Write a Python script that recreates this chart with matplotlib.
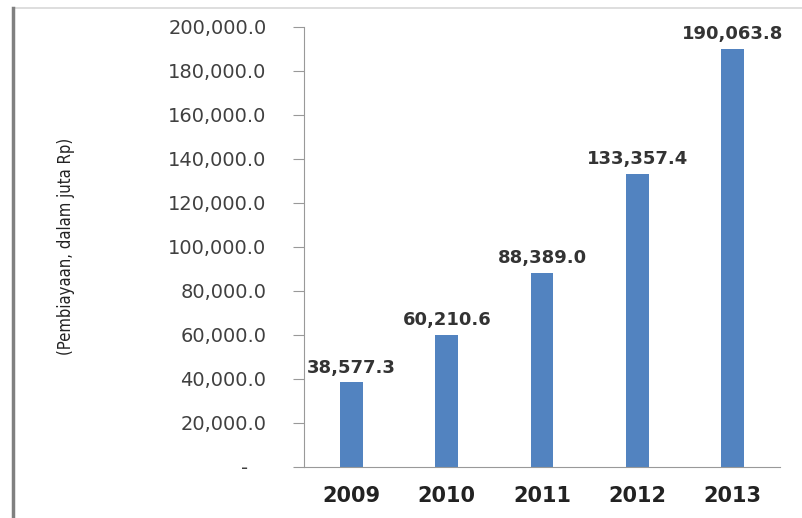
import matplotlib.pyplot as plt
import numpy as np
from matplotlib.lines import Line2D
from matplotlib.ticker import FuncFormatter

years = ['2009', '2010', '2011', '2012', '2013']
pembiayaan = [38577.3, 60210.6, 88389.0, 133357.4, 190063.8]
yticks = [0, 20000, 40000, 60000, 80000, 100000, 120000, 140000, 160000, 180000, 200000]

fig = plt.figure(figsize=(8.03, 5.18), dpi=100)
ax = fig.add_axes([0.3786, 0.0985, 0.5928, 0.8494])

x = np.arange(len(years))
ax.bar(x, pembiayaan, width=0.24, color='#5283c0', zorder=2)

for xi, v in zip(x, pembiayaan):
    ax.text(xi, v + 2500, '{:,.1f}'.format(v), ha='center', va='bottom',
            fontsize=13, fontweight='bold', color='#333333')

ax.set_xlim(-0.5, 4.5)
ax.set_ylim(0, 200000)
ax.set_xticks(x)
ax.set_xticklabels(years, fontsize=15, fontweight='bold', color='#222222')
ax.set_yticks(yticks)
ax.yaxis.set_major_formatter(FuncFormatter(lambda v, p: '-   ' if v == 0 else '{:,.1f}'.format(v)))
ax.tick_params(axis='y', labelsize=14, labelcolor='#404040', length=8, color='#999999', pad=19)
ax.tick_params(axis='x', length=0, pad=14)

for s in ['top', 'right']:
    ax.spines[s].set_visible(False)
ax.spines['left'].set_color('#999999')
ax.spines['bottom'].set_color('#999999')

ax.set_ylabel('(Pembiayaan, dalam juta Rp)', fontsize=12, color='#222222',
              family='DejaVu Sans', fontstretch='condensed')
ax.yaxis.set_label_coords(-0.481, 0.502)

# frame lines of the original screenshot
fig.add_artist(Line2D([0.016, 1.0], [0.985, 0.985], color='#d8d8d8', lw=1.2))
fig.add_artist(Line2D([0.016, 0.016], [0.0, 0.985], color='#808080', lw=2.5))

fig.savefig('out.png', dpi=100)
